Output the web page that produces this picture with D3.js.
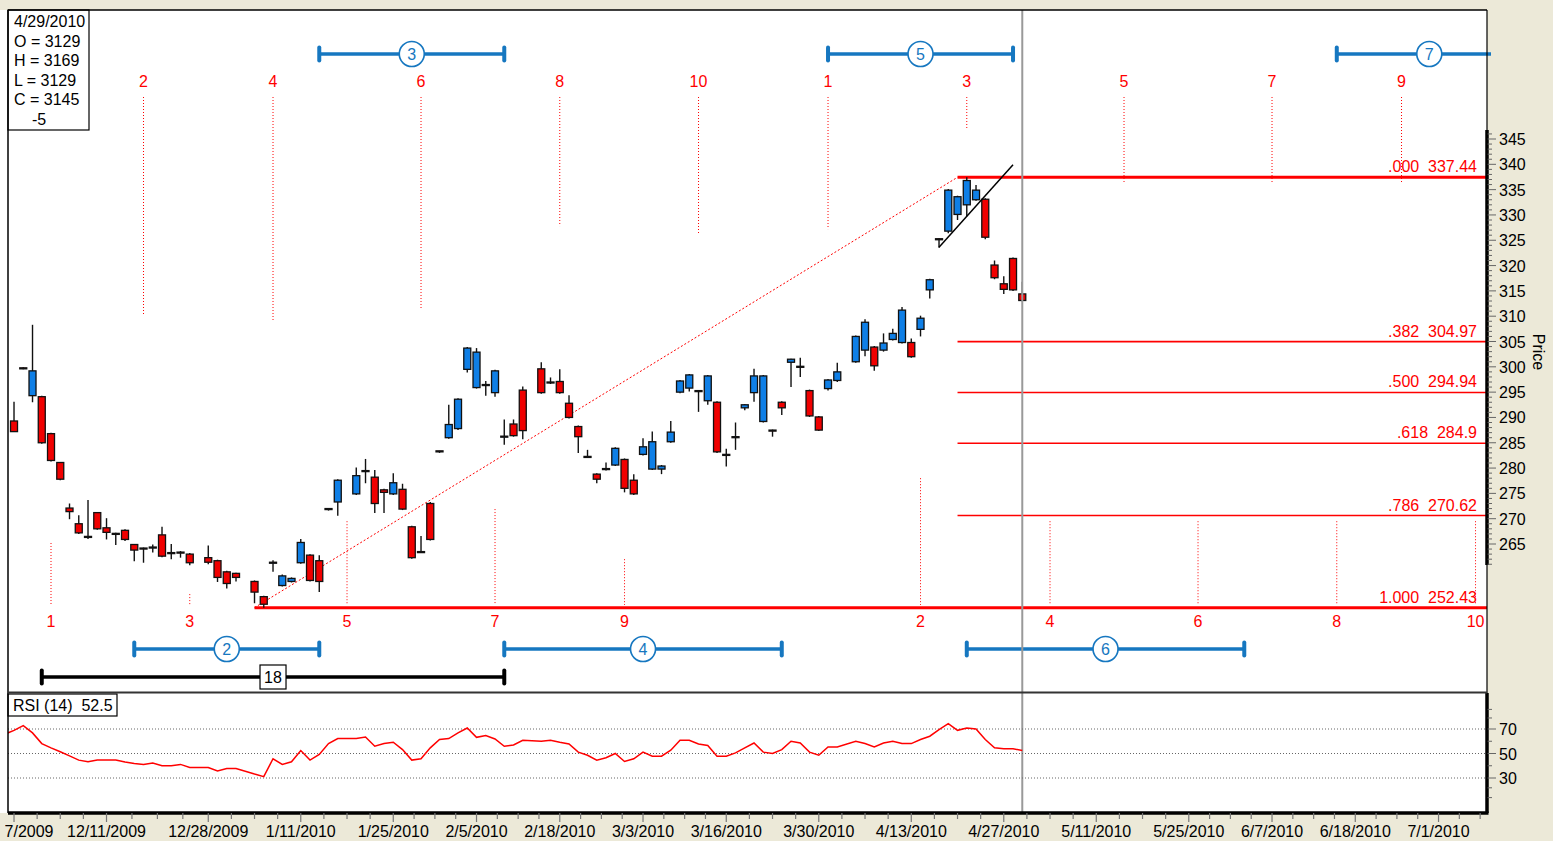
<!DOCTYPE html>
<html>
<head>
<meta charset="utf-8">
<script src="https://cdn.jsdelivr.net/npm/d3@7"></script>
<style>
  html, body { margin: 0; padding: 0; background: #ECE9D8; }
  text { font-family: "Liberation Sans", Arial, sans-serif; font-size: 16px; }
</style>
</head>
<body>
<svg id="drawing_region"></svg>
<script>
// daily bars (holidays 12/25, 1/1, 1/18, 2/15, 4/2 left empty on the weekday axis)
const dates = [
  '11/27/2009','11/30/2009','12/1/2009','12/2/2009','12/3/2009','12/4/2009','12/7/2009','12/8/2009','12/9/2009','12/10/2009',
  '12/11/2009','12/14/2009','12/15/2009','12/16/2009','12/17/2009','12/18/2009','12/21/2009','12/22/2009','12/23/2009','12/24/2009',
  '12/28/2009','12/29/2009','12/30/2009','12/31/2009','1/4/2010','1/5/2010','1/6/2010','1/7/2010','1/8/2010','1/11/2010',
  '1/12/2010','1/13/2010','1/14/2010','1/15/2010','1/19/2010','1/20/2010','1/21/2010','1/22/2010','1/25/2010','1/26/2010',
  '1/27/2010','1/28/2010','1/29/2010','2/1/2010','2/2/2010','2/3/2010','2/4/2010','2/5/2010','2/8/2010','2/9/2010',
  '2/10/2010','2/11/2010','2/12/2010','2/16/2010','2/17/2010','2/18/2010','2/19/2010','2/22/2010','2/23/2010','2/24/2010',
  '2/25/2010','2/26/2010','3/1/2010','3/2/2010','3/3/2010','3/4/2010','3/5/2010','3/8/2010','3/9/2010','3/10/2010',
  '3/11/2010','3/12/2010','3/15/2010','3/16/2010','3/17/2010','3/18/2010','3/19/2010','3/22/2010','3/23/2010','3/24/2010',
  '3/25/2010','3/26/2010','3/29/2010','3/30/2010','3/31/2010','4/1/2010','4/5/2010','4/6/2010','4/7/2010','4/8/2010',
  '4/9/2010','4/12/2010','4/13/2010','4/14/2010','4/15/2010','4/16/2010','4/19/2010','4/20/2010','4/21/2010','4/22/2010',
  '4/23/2010','4/26/2010','4/27/2010','4/28/2010','4/29/2010'
];
const open = [
  289.3,299.8,294.3,294.1,286.8,281.1,272.1,269.0,266.5,271.2,
  268.2,267.1,267.7,264.9,264.2,264.2,266.8,263.3,263.4,263.0,
  262.3,261.7,259.5,259.2,257.6,254.6,261.2,256.8,257.6,261.3,
  262.8,261.7,272.0,273.3,274.9,279.3,278.2,275.7,274.9,275.8,
  268.4,263.5,273.0,283.4,286.0,287.8,299.5,295.9,296.3,294.9,
  286.1,288.7,295.4,299.6,297.0,297.1,292.8,288.2,282.3,278.8,
  279.7,280.6,281.7,277.6,282.7,279.8,279.8,285.2,295.0,295.8,
  295.3,293.3,293.0,282.5,286.0,291.9,294.9,289.2,287.5,293.0,
  300.9,300.1,295.3,290.1,295.7,297.3,301.0,303.3,303.9,303.3,
  305.4,304.8,304.8,307.4,315.2,325.3,326.8,330.1,332.0,333.0,
  333.1,320.1,316.4,321.4,314.4
];
const high = [
  293.1,299.9,308.3,294.3,287.0,281.2,273.0,270.7,273.7,271.3,
  270.1,267.2,267.9,265.0,264.3,264.9,268.4,265.0,263.6,263.2,
  264.7,261.9,259.7,259.3,257.8,254.8,261.8,259.0,258.4,266.0,
  263.0,262.8,272.0,277.8,280.1,281.8,279.6,275.9,279.0,276.9,
  268.6,266.6,273.3,283.4,292.5,293.8,303.9,303.7,297.2,299.4,
  289.6,289.6,296.1,300.9,297.9,299.5,294.4,288.4,283.6,279.0,
  281.1,284.1,281.9,278.8,285.9,287.2,280.6,289.3,297.4,298.6,
  295.4,298.4,293.2,283.8,289.0,292.6,299.6,298.4,287.6,293.2,
  301.6,301.8,295.5,290.3,297.6,300.8,306.2,309.4,304.1,306.6,
  307.5,311.8,305.6,310.1,317.4,325.4,335.1,333.8,337.44,335.9,
  333.3,321.0,317.9,321.6,316.8
];
const low = [
  287.1,299.5,293.0,284.8,281.3,277.6,269.9,267.0,266.0,267.8,
  265.9,264.8,265.6,261.6,261.3,263.3,262.4,262.0,262.3,260.8,
  261.0,257.5,256.2,257.6,253.3,252.43,259.5,256.6,257.4,261.1,
  257.6,255.5,271.6,270.6,274.7,277.0,271.1,271.1,274.7,271.7,
  262.1,263.2,265.7,283.0,285.8,287.5,298.9,295.7,294.3,294.1,
  284.6,286.2,285.7,294.7,296.6,294.7,289.8,283.0,282.0,277.0,
  279.5,280.4,275.2,274.7,282.5,279.6,278.8,285.0,294.8,295.1,
  291.1,292.5,283.0,280.3,283.6,291.4,293.1,289.0,286.2,290.5,
  296.0,298.0,290.1,287.3,295.3,297.0,300.8,302.1,299.2,303.0,
  305.2,304.6,301.8,306.0,313.5,323.5,326.4,329.0,329.7,332.8,
  325.2,317.3,314.4,315.0,312.9
];
const close = [
  287.2,299.6,299.2,285.0,281.5,277.8,271.4,267.2,266.3,268.0,
  267.3,266.9,265.9,263.8,264.0,264.4,262.6,263.1,263.2,261.3,
  261.4,258.4,257.2,258.4,255.5,253.1,261.4,258.7,258.2,265.3,
  257.8,257.6,271.8,277.6,278.5,279.5,273.0,275.2,277.1,271.9,
  262.3,263.3,265.9,283.2,288.6,293.6,303.7,302.9,296.5,299.2,
  286.3,286.4,287.4,294.9,296.8,294.9,290.0,286.2,282.1,277.8,
  279.9,283.9,276.0,274.9,284.2,285.2,280.4,287.1,297.2,298.4,
  295.1,298.2,283.2,282.7,286.2,292.5,298.2,298.2,287.3,291.9,
  301.5,299.9,290.3,287.5,297.4,299.0,306.0,308.8,300.2,304.7,
  306.6,311.2,302.0,309.6,317.2,325.1,334.9,333.6,336.8,334.9,
  325.6,317.6,315.3,315.2,313.1
];
const rsi = [
  68.9,72.7,66.8,58.1,54.6,51.4,48.1,44.6,43.2,44.6,
  44.6,44.6,43.0,41.9,41.1,42.2,40.0,40.0,41.1,38.6,
  38.6,35.7,37.8,37.8,33.2,31.1,45.7,41.1,43.2,52.4,
  44.6,49.2,58.1,62.2,62.2,63.5,55.9,58.1,59.2,53.2,
  44.6,45.7,54.6,61.4,62.2,66.8,70.8,63.2,64.6,61.9,
  55.9,57.0,60.8,60.0,60.8,59.2,57.8,51.1,48.6,44.6,
  46.5,50.0,43.5,45.7,51.1,47.8,47.8,52.7,60.8,60.8,
  57.8,56.5,47.8,47.8,50.5,54.6,58.6,51.1,50.0,53.2,
  60.0,58.6,51.1,48.6,55.4,55.4,60.0,58.1,55.4,58.6,
  60.0,58.1,58.1,61.4,64.1,69.5,74.3,68.9,70.8,70.0,
  61.4,54.6,53.8,53.8,52.5
];
const rsiPriorDate = '11/26/2009';
const rsiPrior = 65.7;

const dateTicks = ['11/27/2009','12/11/2009','12/28/2009','1/11/2010','1/25/2010','2/5/2010','2/18/2010','3/3/2010',
  '3/16/2010','3/30/2010','4/13/2010','4/27/2010','5/11/2010','5/25/2010','6/7/2010','6/18/2010','7/1/2010'];
const priceTicks = [265,270,275,280,285,290,295,300,305,310,315,320,325,330,335,340,345];
const rsiTicks = [30,50,70];
const rsiMinorTicks = [14,22,40,60,79,86];

// fibonacci retracement from the January low to the April high
const fibLowDate = '1/4/2010', fibLow = 252.43;
const fibHighDate = '4/20/2010', fibHigh = 337.44;
const fibRatios = [0, 0.382, 0.5, 0.618, 0.786, 1];

// time cycle counts
const cycleLabels = ['1','2','3','4','5','6','7','8','9','10','1','2','3','4','5','6','7','8','9','10'];
const cycleDates = ['12/3/2009','12/17/2009','12/24/2009','1/6/2010','1/18/2010','1/28/2010','2/9/2010','2/18/2010','3/1/2010','3/11/2010',
  '3/31/2010','4/14/2010','4/21/2010','5/4/2010','5/14/2010','5/26/2010','6/7/2010','6/16/2010','6/25/2010','7/7/2010'];
const cycleSide = ['bottom','top','bottom','top','bottom','top','bottom','top','bottom','top',
  'top','bottom','top','bottom','top','bottom','top','bottom','top','bottom'];
const cycleEnd = [265.2,310.2,255.1,309.2,269.5,311.4,271.9,327.8,262.0,326.2,
  327.2,278.0,347.0,269.5,336.5,269.5,336.5,269.5,336.5,269.5];

// interval spans
const spanLabels = ['2','3','4','5','6','7'];
const spanStart = ['12/16/2009','1/13/2010','2/10/2010','3/31/2010','4/21/2010','6/16/2010'];
const spanEnd = ['1/13/2010','2/10/2010','3/24/2010','4/28/2010','6/2/2010','7/14/2010'];
const spanSide = ['bottom','top','bottom','top','bottom','top'];
const countLabel = '18', countStart = '12/2/2009', countEnd = '2/10/2010';

// hand-drawn trend line
const trendDates = ['4/16/2010','4/28/2010'];
const trendPrices = [323.6, 339.9];

const infoLines = ['4/29/2010','O = 3129','H = 3169','L = 3129','C = 3145','-5'];
const cursorDate = '4/29/2010';

// ------------------------------------------------------------------
const W = 1553, H = 841;
const left = 8, right = 1487;
const priceTop = 10, priceBottom = 692, rsiTop = 693, rsiBottom = 813;
const upColor = '#0f7fe6', downColor = '#f00000', spanBlue = '#1677c0', red = '#ff0000';

const parse = d3.timeParse('%m/%d/%Y');
const base = parse(dates[0]);

// count weekdays from the first bar (holidays keep their slot)
function barIndex(str) {
    const d = parse(str);
    const days = Math.round((d - base) / 864e5);
    const s = days >= 0 ? 1 : -1;
    let n = 0;
    for (let k = 1; k <= Math.abs(days); k++) {
        const wd = d3.timeDay.offset(base, s * k).getDay();
        if (wd !== 0 && wd !== 6) n += s;
    }
    return n;
}

const x = d3.scaleLinear().domain([-0.65, 159.24]).range([left, right]);
const y = d3.scaleLinear().domain([265, 345]).range([544, 139]);
const yr = d3.scaleLinear().domain([30, 70]).range([778, 729]);
const xd = s => x(barIndex(s));

const svg = d3.select('#drawing_region').attr('width', W).attr('height', H)
    .style('display', 'block');

svg.append('rect').attr('width', W).attr('height', H).attr('fill', '#ECE9D8');
svg.append('rect').attr('x', 0).attr('y', priceTop).attr('width', right).attr('height', rsiBottom - priceTop).attr('fill', '#fff');

const defs = svg.append('defs');
defs.append('clipPath').attr('id', 'clipP').append('rect')
    .attr('x', left).attr('y', priceTop).attr('width', right - left + 4).attr('height', priceBottom - priceTop);
defs.append('clipPath').attr('id', 'clipR').append('rect')
    .attr('x', left).attr('y', rsiTop).attr('width', right - left).attr('height', rsiBottom - rsiTop);
defs.append('clipPath').attr('id', 'clipX').append('rect')
    .attr('x', 5).attr('y', rsiBottom).attr('width', W - 5).attr('height', H - rsiBottom);

const pg = svg.append('g').attr('clip-path', 'url(#clipP)');

// fib levels
const fmtRatio = r => r === 1 ? '1.000' : d3.format('.3f')(r).replace(/^0/, '');
fibRatios.forEach(r => {
    const p = Math.round((fibHigh - r * (fibHigh - fibLow)) * 100 + 1e-6) / 100;
    const x0 = r === 1 ? xd(fibLowDate) : xd(fibHighDate);
    const thick = (r === 0 || r === 1);
    pg.append('line')
        .attr('x1', x0).attr('x2', right).attr('y1', y(p)).attr('y2', y(p))
        .attr('stroke', red).attr('stroke-width', thick ? 3 : 1.6);
    pg.append('text')
        .attr('x', right - 10).attr('y', y(p) - 5)
        .attr('text-anchor', 'end').attr('fill', red)
        .style('white-space', 'pre')
        .text(fmtRatio(r) + '  ' + p);
});

// dotted line joining the swing points
pg.append('line')
    .attr('x1', xd(fibLowDate)).attr('y1', y(fibLow))
    .attr('x2', xd(fibHighDate)).attr('y2', y(fibHigh))
    .attr('stroke', red).attr('stroke-width', 1).attr('stroke-dasharray', '2,2');

// time cycle markers
cycleLabels.forEach((lab, i) => {
    const cx = xd(cycleDates[i]);
    const top = cycleSide[i] === 'top';
    pg.append('line')
        .attr('x1', cx).attr('x2', cx)
        .attr('y1', top ? 97 : y(cycleEnd[i]))
        .attr('y2', top ? y(cycleEnd[i]) : 605)
        .attr('stroke', red).attr('stroke-width', 1).attr('stroke-dasharray', '1,2');
    pg.append('text')
        .attr('x', cx).attr('y', top ? 87 : 627)
        .attr('text-anchor', 'middle').attr('fill', red)
        .text(lab);
});

// cursor
svg.append('line')
    .attr('x1', xd(cursorDate)).attr('x2', xd(cursorDate))
    .attr('y1', priceTop).attr('y2', rsiBottom)
    .attr('stroke', '#999').attr('stroke-width', 2);

// candles
const bars = dates.map((d, i) => ({ i: barIndex(d), o: open[i], h: high[i], l: low[i], c: close[i] }));
const cg = pg.append('g');
cg.selectAll('line.wick').data(bars).enter().append('line')
    .attr('class', 'wick')
    .attr('x1', d => x(d.i)).attr('x2', d => x(d.i))
    .attr('y1', d => y(d.h)).attr('y2', d => y(d.l))
    .attr('stroke', '#111').attr('stroke-width', 1.4);
cg.selectAll('rect.body').data(bars).enter().append('rect')
    .attr('class', 'body')
    .attr('x', d => x(d.i) - 3.5).attr('width', 7)
    .attr('y', d => y(Math.max(d.o, d.c)))
    .attr('height', d => Math.max(1, y(Math.min(d.o, d.c)) - y(Math.max(d.o, d.c))))
    .attr('fill', d => d.c >= d.o ? upColor : downColor)
    .attr('stroke', '#111').attr('stroke-width', 1.3);

// trend line
pg.append('line')
    .attr('x1', xd(trendDates[0])).attr('y1', y(trendPrices[0]))
    .attr('x2', xd(trendDates[1])).attr('y2', y(trendPrices[1]))
    .attr('stroke', '#000').attr('stroke-width', 1.5);

// interval spans
function span(g, x0, x1, yy, color, label, boxed) {
    g.append('line').attr('x1', x0).attr('x2', x1).attr('y1', yy).attr('y2', yy)
        .attr('stroke', color).attr('stroke-width', 3.5);
    [x0, x1].forEach(xx => g.append('rect')
        .attr('x', xx - 2).attr('y', yy - 8.5).attr('width', 4).attr('height', 17).attr('rx', 2)
        .attr('fill', color));
    const mx = (x0 + x1) / 2;
    if (boxed) {
        g.append('rect').attr('x', mx - 13).attr('y', yy - 12).attr('width', 26).attr('height', 24)
            .attr('fill', '#fff').attr('stroke', color).attr('stroke-width', 1.2);
    } else {
        g.append('circle').attr('cx', mx).attr('cy', yy).attr('r', 12.5)
            .attr('fill', '#fff').attr('stroke', color).attr('stroke-width', 1.6);
    }
    g.append('text').attr('x', mx).attr('y', yy + 6)
        .attr('text-anchor', 'middle').attr('fill', color).text(label);
}
spanLabels.forEach((lab, i) => {
    span(pg, xd(spanStart[i]), xd(spanEnd[i]), spanSide[i] === 'top' ? 54 : 649, spanBlue, lab, false);
});
span(pg, xd(countStart), xd(countEnd), 677, '#000', countLabel, true);

// info box
svg.append('rect').attr('x', left).attr('y', priceTop).attr('width', 81).attr('height', 120)
    .attr('fill', '#fff').attr('stroke', '#000').attr('stroke-width', 1.2);
infoLines.forEach((t, i) => {
    svg.append('text').attr('x', i === 5 ? 32 : 14).attr('y', 27 + i * 19.5).attr('fill', '#000').text(t);
});

// price axis
const pax = svg.append('g');
pax.append('line').attr('x1', right).attr('x2', right).attr('y1', 130).attr('y2', 565)
    .attr('stroke', '#000').attr('stroke-width', 3.5);
d3.range(261, 347).forEach(v => {
    const major = v % 5 === 0;
    pax.append('line').attr('x1', right).attr('x2', right + (major ? 9 : 5))
        .attr('y1', y(v)).attr('y2', y(v)).attr('stroke', '#666').attr('stroke-width', 1);
});
pax.selectAll('text').data(priceTicks).enter().append('text')
    .attr('x', right + 12).attr('y', d => y(d) + 6).attr('fill', '#000').text(d => d);
svg.append('text').attr('transform', `translate(1533, 352) rotate(90)`)
    .attr('text-anchor', 'middle').attr('fill', '#000').text('Price');

// RSI panel
const rg = svg.append('g').attr('clip-path', 'url(#clipR)');
rsiTicks.forEach(v => {
    rg.append('line').attr('x1', left).attr('x2', right).attr('y1', yr(v)).attr('y2', yr(v))
        .attr('stroke', '#666').attr('stroke-width', 1).attr('stroke-dasharray', '1,2');
});
const rsiPts = [{ i: barIndex(rsiPriorDate), v: rsiPrior }]
    .concat(dates.map((d, i) => ({ i: barIndex(d), v: rsi[i] })));
rg.append('path').datum(rsiPts)
    .attr('d', d3.line().x(d => x(d.i)).y(d => yr(d.v)))
    .attr('fill', 'none').attr('stroke', red).attr('stroke-width', 1.5);

svg.append('rect').attr('x', left).attr('y', rsiTop + 1).attr('width', 109).attr('height', 22)
    .attr('fill', '#fff').attr('stroke', '#000').attr('stroke-width', 1.2);
svg.append('text').attr('x', 13).attr('y', rsiTop + 18).style('white-space', 'pre')
    .attr('fill', '#000').text('RSI (14)  ' + rsi[rsi.length - 1]);

const rax = svg.append('g');
rax.append('line').attr('x1', right).attr('x2', right).attr('y1', rsiTop).attr('y2', rsiBottom)
    .attr('stroke', '#000').attr('stroke-width', 3.5);
rsiTicks.concat(rsiMinorTicks).forEach(v => {
    const major = rsiTicks.includes(v);
    rax.append('line').attr('x1', right).attr('x2', right + (major ? 9 : 5))
        .attr('y1', yr(v)).attr('y2', yr(v)).attr('stroke', '#666');
});
rax.selectAll('text').data(rsiTicks).enter().append('text')
    .attr('x', right + 12).attr('y', d => yr(d) + 6).attr('fill', '#000').text(d => d);

// panel borders
svg.append('line').attr('x1', left).attr('x2', right).attr('y1', priceTop).attr('y2', priceTop)
    .attr('stroke', '#000').attr('stroke-width', 1.5);
svg.append('line').attr('x1', left).attr('x2', left).attr('y1', priceTop).attr('y2', rsiBottom)
    .attr('stroke', '#000').attr('stroke-width', 1.5);
svg.append('line').attr('x1', right).attr('x2', right).attr('y1', priceTop).attr('y2', rsiBottom)
    .attr('stroke', '#000').attr('stroke-width', 1.2);
svg.append('line').attr('x1', left).attr('x2', right).attr('y1', priceBottom + 0.5).attr('y2', priceBottom + 0.5)
    .attr('stroke', '#333').attr('stroke-width', 2);

// date axis
svg.append('rect').attr('x', 0).attr('y', rsiBottom).attr('width', W).attr('height', H - rsiBottom).attr('fill', '#ECE9D8');
svg.append('line').attr('x1', left).attr('x2', right + 1.5).attr('y1', rsiBottom).attr('y2', rsiBottom)
    .attr('stroke', '#000').attr('stroke-width', 3.5);
const majorIdx = dateTicks.map(barIndex);
let minorIdx = [];
majorIdx.forEach((m, k) => {
    if (k < majorIdx.length - 1) {
        const step = (majorIdx[k + 1] - m) / 4;
        for (let j = 1; j < 4; j++) minorIdx.push(m + j * step);
    }
});
for (let v = majorIdx[majorIdx.length - 1] + 2.25; v < 159.2; v += 2.25) minorIdx.push(v);
const xax = svg.append('g').attr('clip-path', 'url(#clipX)');
majorIdx.forEach(v => xax.append('line').attr('x1', x(v)).attr('x2', x(v)).attr('y1', rsiBottom).attr('y2', rsiBottom + 9)
    .attr('stroke', '#777').attr('stroke-width', 1.2));
minorIdx.forEach(v => xax.append('line').attr('x1', x(v)).attr('x2', x(v)).attr('y1', rsiBottom).attr('y2', rsiBottom + 6)
    .attr('stroke', '#777').attr('stroke-width', 1.2));
xax.selectAll('text').data(dateTicks).enter().append('text')
    .attr('x', d => xd(d)).attr('y', 837).attr('text-anchor', 'middle').attr('fill', '#000')
    .text(d => d);
</script>
</body>
</html>
